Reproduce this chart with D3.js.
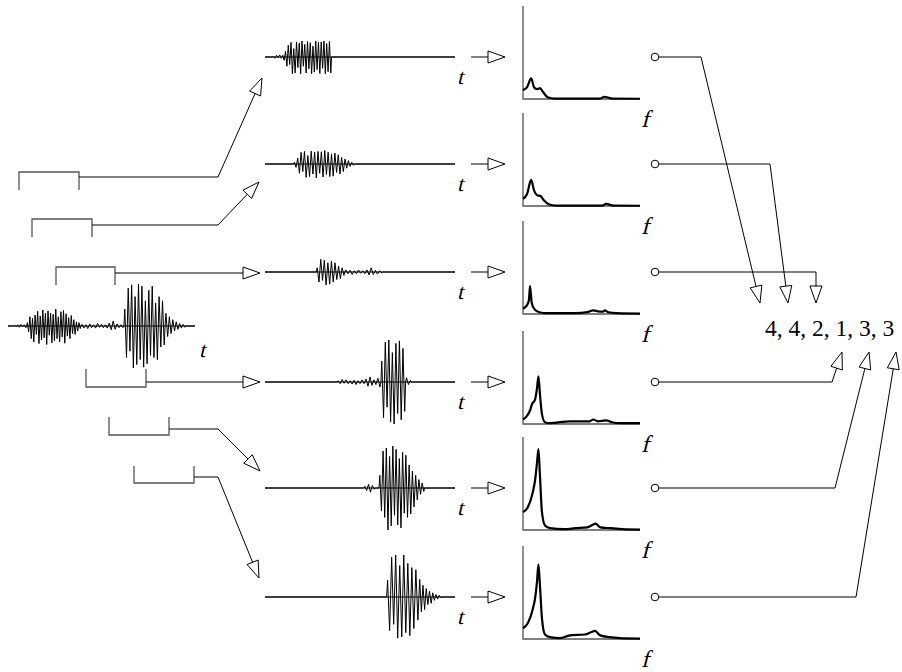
<!DOCTYPE html>
<html><head><meta charset="utf-8">
<script src="https://cdn.jsdelivr.net/npm/d3@7"></script>
<style>body{margin:0;background:#fff}svg{display:block}</style>
</head><body>
<svg id="c" width="902" height="672"></svg>
<script>
// ---------- data ----------
// Code sequence produced by the six analysis frames
const codes = [4, 4, 2, 1, 3, 3];
const timeLabel = "t";
const freqLabel = "f";

// Waveform segments: [tStart, tEnd, successive extremes (% of full scale)]
const wave0 = [
  [3, 10, [2, -2, 3, -3, 4, -2, 3, -4]],
  [10, 39, [8, -14, 22, -30, 18, -38, 26, -20, 35, -42, 24, -33, 38, -28, 30, -44, 36, -22, 31, -40, 28, -35, 40, -30, 22, -38, 34, -26, 37, -41, 29, -24, 20, -30, 25, -18, 15, -20, 10, -12, 8, -6]],
  [39, 62, [4, -5, 3, -6, 5, -4, 3, -5, 6, -3, 4, -4, 3, -5, 7, -9, 12, -8, 5, -4, 3, -4]],
  [62, 84, [40, -75, 90, -60, 98, -100, 70, -92, 100, -80, 95, -98, 60, -90, 85, -70, 95, -75, 55, -80, 70, -50, 60, -45]],
  [84, 95, [30, -25, 22, -18, 15, -12, 10, -8, 6, -5, 4, -3]]
];
const wave1 = [
  [4, 9, [2, -3, 4, -2, 5, -3]],
  [9, 35, [4, -8, 14, -22, 28, -18, 35, -40, 20, -38, 36, -25, 33, -40, 38, -22, 30, -38, 37, -28, 34, -40, 26, -36, 38, -30, 35, -39, 36, -27, 38, -40, 32, -35, 37, -38]]
];
const wave2 = [
  [15, 47, [4, -8, 14, -22, 28, -18, 30, -32, 20, -30, 31, -24, 28, -33, 30, -22, 29, -31, 32, -25, 28, -30, 24, -29, 26, -20, 22, -24, 16, -18, 12, -10, 8, -6, 4, -3]]
];
const wave3 = [
  [27, 42, [10, -24, 30, -20, 28, -31, 22, -29, 26, -24, 22, -18, 14, -16, 10, -8]],
  [42, 62, [5, -4, 4, -6, 3, -4, 5, -3, 3, -4, 5, -7, 10, -6, 4, -5, 3, -2]]
];
const wave4 = [
  [38, 61, [3, -4, 6, -3, 5, -4, 3, -5, 4, -6, 3, -4, 5, -4, 7, -10, 12, -8, 5, -6, 9, -12]],
  [61, 74, [50, -85, 95, -60, 100, -95, 70, -100, 92, -75, 98, -90, 80, -70]],
  [74, 77, [10, -6, 4]]
];
const wave5 = [
  [52, 58, [4, -6, 9, -10, 6, -3]],
  [60, 84, [30, -55, 88, -70, 95, -100, 75, -90, 100, -65, 92, -88, 70, -95, 85, -60, 78, -70, 55, -62, 40, -45, 30, -28, 20, -15, 12, -8]]
];
const wave6 = [
  [64, 81, [40, -80, 95, -65, 100, -98, 75, -95, 100, -85, 80, -92, 70, -75, 65, -55]],
  [81, 93, [42, -35, 28, -30, 20, -18, 14, -15, 10, -8, 6, -5, 4, -2]]
];

// Magnitude spectra: [frequency (% of band), magnitude (% of panel)]
const spec1 = [[0,10],[3.4,13],[7,23],[9.4,13],[12,11],[14.5,12],[17,8],[21,2],[27,0.5],[66,0.5],[69.5,2.5],[73,1.5],[76,0.5],[100,0.3]];
const spec2 = [[0,8],[3.4,13],[7,29],[9.5,17],[12,12],[15,11],[18,6],[22,2],[28,0.5],[68,0.5],[71,2.5],[74,1.5],[77,0.5],[100,0.3]];
const spec3 = [[0,6],[3,9],[5,15],[6,31],[7.5,12],[10,5],[14,2],[20,1],[45,1],[55,2],[60,4],[64,3],[68,2.5],[70,4],[73,2],[80,1],[100,0.5]];
const spec4 = [[0,5],[3.4,9],[6,15],[7.7,22],[10.3,27],[12,40],[13.2,53],[14.5,33],[16.2,11],[18.8,2],[23,1],[40,3],[57,3],[60,5],[64,3],[71,4],[76,2],[83,1],[100,1]];
const spec5 = [[0,20],[4,25],[8,40],[10.3,55],[12,75],[13.2,90],[14.5,60],[16.2,20],[18.8,5],[23,2],[35,1],[45,2],[55,3],[60,6],[62,7],[66,3],[75,2],[85,1],[100,0.5]];
const spec6 = [[0,12],[4.3,18],[8.5,34],[10.3,45],[12,64],[13.2,83],[14.5,59],[16.2,23],[18.8,5],[23,2],[31.6,1],[40,4],[53,5],[59,8],[61.5,9],[66,4],[74,2],[83,1],[100,0.5]];

const frameWaves = [wave1, wave2, wave3, wave4, wave5, wave6];
const frameSpecs = [spec1, spec2, spec3, spec4, spec5, spec6];

// ---------- layout ----------
const svg = d3.select("#c");
const rowY = [57, 164, 272, 382, 488, 597];
const serif = "'Liberation Serif','Times New Roman',serif";
const ink = "#000", axisInk = "#555";

// Serif axis-variable label, slanted
function varLabel(txt, x, y, size) {
  svg.append("text").text(txt)
    .attr("transform", `translate(${x},${y}) skewX(-14)`)
    .attr("font-family", serif).attr("font-size", size);
}

// Expand burst segments into a polyline along the time axis
function wavePoints(segs, tMin, tMax) {
  const pts = [[tMin, 0]];
  segs.forEach(([t0, t1, v]) => {
    pts.push([t0, 0]);
    const step = (t1 - t0) / v.length;
    v.forEach((a, i) => pts.push([t0 + (i + 0.5) * step, a]));
    pts.push([t1, 0]);
  });
  pts.push([tMax, 0]);
  return pts;
}

function drawWave(segs, x0, x1, y0, tLabelDx, tLabelDy) {
  const x = d3.scaleLinear().domain([0, 100]).range([x0, x1]);
  const y = d3.scaleLinear().domain([-100, 100]).range([y0 + 42, y0 - 42]);
  svg.append("line").attr("x1", x0).attr("x2", x1).attr("y1", y0).attr("y2", y0)
    .attr("stroke", axisInk).attr("stroke-width", 1.3);
  svg.append("path")
    .attr("d", d3.line().x(d => x(d[0])).y(d => y(d[1]))(wavePoints(segs, 0, 100)))
    .attr("fill", "none").attr("stroke", ink).attr("stroke-width", 1);
  varLabel(timeLabel, x1 + tLabelDx, y0 + tLabelDy, 22);
}

function arrowHead(x1, y1, x2, y2, len = 17, half = 6) {
  const dx = x2 - x1, dy = y2 - y1, L = Math.hypot(dx, dy);
  const ux = dx / L, uy = dy / L;
  const bx = x2 - ux * len, by = y2 - uy * len;
  const px = -uy * half, py = ux * half;
  svg.append("path")
    .attr("d", `M${x2},${y2}L${bx + px},${by + py}L${bx - px},${by - py}Z`)
    .attr("fill", "#fff").attr("stroke", ink).attr("stroke-width", 1);
  return [bx, by];
}

// Polyline ending in an open triangular arrowhead
function arrow(pts) {
  const n = pts.length;
  const base = arrowHead(pts[n - 2][0], pts[n - 2][1], pts[n - 1][0], pts[n - 1][1]);
  const line = pts.slice(0, n - 1).concat([base]);
  svg.append("path").attr("d", d3.line()(line))
    .attr("fill", "none").attr("stroke", ink).attr("stroke-width", 1);
}

// Window bracket on the input signal
function bracket(xa, xb, yTop, yBot, open) {
  const d = open === "down"
    ? `M${xa},${yBot}V${yTop}H${xb}V${yBot}`
    : `M${xa},${yTop}V${yBot}H${xb}V${yTop}`;
  svg.append("path").attr("d", d).attr("fill", "none")
    .attr("stroke", axisInk).attr("stroke-width", 1.3);
}

// ---------- input signal and analysis windows ----------
drawWave(wave0, 8, 195, 326, 4, 31);

const windows = [
  { xa: 19, xb: 79, yTop: 172, yBot: 190, open: "down", ly: 177, route: [[218, 177], [262, 78]] },
  { xa: 32, xb: 92, yTop: 219, yBot: 237, open: "down", ly: 225, route: [[218, 225], [259, 182]] },
  { xa: 56, xb: 115, yTop: 267, yBot: 285, open: "down", ly: 273, route: [[260, 273]] },
  { xa: 86, xb: 146, yTop: 369, yBot: 387, open: "up", ly: 382, route: [[260, 382]] },
  { xa: 109, xb: 169, yTop: 417, yBot: 435, open: "up", ly: 429, route: [[218, 429], [260, 471]] },
  { xa: 134, xb: 194, yTop: 466, yBot: 483, open: "up", ly: 477, route: [[218, 477], [259, 578]] }
];
windows.forEach(w => {
  bracket(w.xa, w.xb, w.yTop, w.yBot, w.open);
  arrow([[w.xb, w.ly]].concat(w.route));
});

// ---------- frames: waveform -> spectrum -> code ----------
const specX0 = 523, specX1 = 640;
frameWaves.forEach((segs, i) => {
  const y0 = rowY[i];
  drawWave(segs, 265, 455, y0, 2, 27);
  arrow([[471, y0], [505, y0]]);

  const bottom = y0 + 42, top = y0 - 51;
  const fx = d3.scaleLinear().domain([0, 100]).range([specX0, specX1]);
  const fy = d3.scaleLinear().domain([0, 100]).range([bottom, top + 3]);
  svg.append("path").attr("d", `M${specX0},${top}V${bottom}H${specX1}`)
    .attr("fill", "none").attr("stroke", axisInk).attr("stroke-width", 1.3);
  svg.append("path")
    .attr("d", d3.line().x(d => fx(d[0])).y(d => fy(d[1])).curve(d3.curveMonotoneX)(frameSpecs[i]))
    .attr("fill", "none").attr("stroke", ink).attr("stroke-width", 2.2)
    .attr("stroke-linejoin", "round");
  varLabel(freqLabel, 641, y0 + 70, 24);

  svg.append("circle").attr("cx", 655).attr("cy", y0).attr("r", 3.8)
    .attr("fill", "#fff").attr("stroke", ink).attr("stroke-width", 1);
});

// Routes from each frame to its code
const codeRoutes = [
  [[701, rowY[0]], [760, 303]],
  [[770, rowY[1]], [788, 303]],
  [[816, rowY[2]], [816, 303]],
  [[832, rowY[3]], [842, 352]],
  [[835, rowY[4]], [869, 352]],
  [[856, rowY[5]], [896, 352]]
];
codeRoutes.forEach((r, i) => arrow([[659, rowY[i]]].concat(r)));

svg.append("text").text(codes.join(", "))
  .attr("x", 765).attr("y", 336)
  .attr("font-family", serif).attr("font-size", 23.5);
</script>
</body></html>
